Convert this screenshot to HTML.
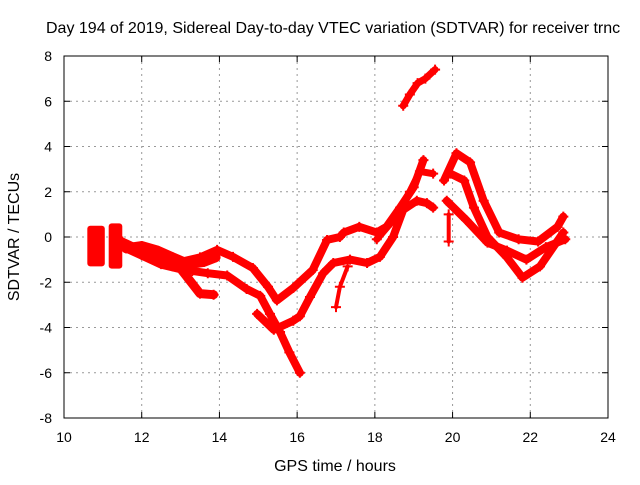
<!DOCTYPE html>
<html><head><meta charset="utf-8"><style>
body{margin:0;background:#fff}
svg text{font-family:"Liberation Sans",sans-serif;fill:#000}
</style></head><body>
<svg id="chart" width="640" height="480" viewBox="0 0 640 480" xmlns="http://www.w3.org/2000/svg">
<rect width="640" height="480" fill="#fff"/>
<text x="46" y="33" font-size="16">Day 194 of 2019, Sidereal Day-to-day VTEC variation (SDTVAR) for receiver trnc</text>
<g id="grid"></g>
<g id="series"></g>
<rect x="64" y="56" width="544" height="362" fill="none" stroke="#000" stroke-width="1"/>
<g id="ticks"></g>
<text x="335" y="471" font-size="16" text-anchor="middle">GPS time / hours</text>
<text x="19" y="237" font-size="16" text-anchor="middle" transform="rotate(-90 19 237)">SDTVAR / TECUs</text>
</svg>
<script>
const xTicks=[10,12,14,16,18,20,22,24];
const yTicks=[-8,-6,-4,-2,0,2,4,6,8];
const clusterA=[[10.6,0.5],[11.05,-1.3],[10.6,-1.3],[11.05,0.5]];
const clusterB=[[11.15,0.6],[11.5,-1.4],[11.15,-1.4],[11.5,0.6]];
const traceUpper=[[11.5,-0.2],[12,-0.6],[12.5,-0.9],[13,-1.1],[13.5,-0.9],[13.94,-0.57],[14.35,-0.88],[14.86,-1.37],[15.25,-2.2],[15.48,-2.8],[15.9,-2.25],[16.4,-1.46],[16.77,-0.13],[17.1,0],[17.2,0.2],[17.6,0.45],[18.05,0.2],[18.3,0.45],[18.65,1.3],[19.0,2.2],[19.25,3.4]];
const traceBand=[[11.6,-0.5],[12,-0.4],[12.4,-0.6],[12.8,-0.9],[13.2,-1.2],[13.6,-1.1],[13.9,-0.9]];
const traceLowA=[[11.5,-0.4],[12,-0.8],[12.5,-1.2],[13,-1.4],[13.5,-2.5],[13.85,-2.55]];
const traceMid=[[12.8,-1.3],[13.3,-1.5],[13.7,-1.6],[14.2,-1.7],[14.7,-2.3],[15.05,-2.6],[15.3,-3.4],[15.56,-4.2],[15.8,-5.1],[16.07,-6.0]];
const traceScatter=[[14.97,-3.4],[15.4,-4.1],[15.9,-3.7],[16.07,-3.5],[16.33,-2.65],[16.67,-1.6],[16.93,-1.15],[17.36,-1.0],[17.8,-1.15],[18.13,-0.88],[18.47,0],[18.73,1.2],[19.08,1.6],[19.34,1.5],[19.5,1.3]];
const traceRise=[[18.05,-0.1],[18.5,0.8],[18.9,2.0],[19.16,2.9],[19.5,2.8]];
const traceSpike=[[17.0,-3.1],[17.1,-2.2],[17.3,-1.3]];
const traceTop=[[18.73,5.8],[18.9,6.3],[19.1,6.8],[19.3,7.0],[19.55,7.4]];
const tracePeak1=[[19.78,2.5],[20.1,3.7],[20.45,3.3],[20.8,1.6],[21.2,0.2],[21.7,-0.1],[22.2,-0.2],[22.7,0.45],[22.85,0.9]];
const tracePeak2=[[19.95,2.8],[20.3,2.5],[20.55,1.3],[20.9,0],[21.4,-0.9],[21.8,-1.8],[22.25,-1.3],[22.85,0.2]];
const tracePeak3=[[19.85,1.6],[20.35,0.75],[20.9,-0.25],[21.4,-0.6],[21.9,-1.0],[22.4,-0.45],[22.9,-0.1]];
const traceOutlier=[[19.9,1.0],[19.9,-0.2]];

const NS='http://www.w3.org/2000/svg';
const X=h=>64+(h-10)*544/14;
const Y=v=>237-v*362/16;
function mk(t,a){const e=document.createElementNS(NS,t);for(const k in a)e.setAttribute(k,a[k]);return e;}
const grid=document.getElementById('grid'),ticks=document.getElementById('ticks'),ser=document.getElementById('series');
xTicks.forEach(t=>{const x=X(t);
 if(t>10&&t<24){const g=mk('line',{x1:x,x2:x,y1:56,y2:418,stroke:'#999','stroke-dasharray':'2,4'});
 
 grid.appendChild(g);}
 ticks.appendChild(mk('line',{x1:x,x2:x,y1:418,y2:412,stroke:'#000'}));
 ticks.appendChild(mk('line',{x1:x,x2:x,y1:56,y2:62,stroke:'#000'}));
 const l=mk('text',{x:x,y:442,'font-size':14,'text-anchor':'middle'});l.textContent=t;
 
 ticks.appendChild(l);});
yTicks.forEach(t=>{const y=Y(t);
 if(t>-8&&t<8){const g=mk('line',{x1:64,x2:608,y1:y,y2:y,stroke:'#999','stroke-dasharray':'2,4'});
 
 grid.appendChild(g);}
 ticks.appendChild(mk('line',{x1:64,x2:70,y1:y,y2:y,stroke:'#000'}));
 ticks.appendChild(mk('line',{x1:608,x2:602,y1:y,y2:y,stroke:'#000'}));
 const l=mk('text',{x:52,y:y+5,'font-size':14,'text-anchor':'end'});l.textContent=t;
 
 ticks.appendChild(l);});
function drawTrace(pts,name,w){
 const d=pts.map((p,i)=>(i?'L':'M')+X(p[0]).toFixed(1)+' '+Y(p[1]).toFixed(1)).join(' ');
 const p=mk('path',{d:d,fill:'none',stroke:'#ff0000','stroke-width':w,'stroke-linejoin':'round','stroke-linecap':'round'});
 
 ser.appendChild(p);
 pts.forEach(q=>{const x=X(q[0]),y=Y(q[1]);
  ser.appendChild(mk('path',{d:`M${x-5} ${y}H${x+5}M${x} ${y-5}V${y+5}`,stroke:'#ff0000','stroke-width':2}));});
}
function drawCluster(pts,name){
 const xs=pts.map(p=>X(p[0])),ys=pts.map(p=>Y(p[1]));
 const r=mk('rect',{x:Math.min(...xs),y:Math.min(...ys),width:Math.max(...xs)-Math.min(...xs),height:Math.max(...ys)-Math.min(...ys),fill:'#ff0000',rx:3});
 
 ser.appendChild(r);
}
drawCluster(clusterA,'cluster-a');
drawCluster(clusterB,'cluster-b');
drawTrace(traceBand,'trace-band',10);
drawTrace(traceUpper,'trace-upper',8);
drawTrace(traceLowA,'trace-low-a',9);
drawTrace(traceMid,'trace-mid',8);
drawTrace(traceScatter,'trace-scatter',8);
drawTrace(traceRise,'trace-rise',7);
drawTrace(traceSpike,'trace-spike',4);
drawTrace(traceTop,'trace-top',7);
drawTrace(tracePeak1,'trace-peak-1',8);
drawTrace(tracePeak2,'trace-peak-2',8);
drawTrace(tracePeak3,'trace-peak-3',8);
drawTrace(traceOutlier,'trace-outlier',4);
</script>
</body></html>
